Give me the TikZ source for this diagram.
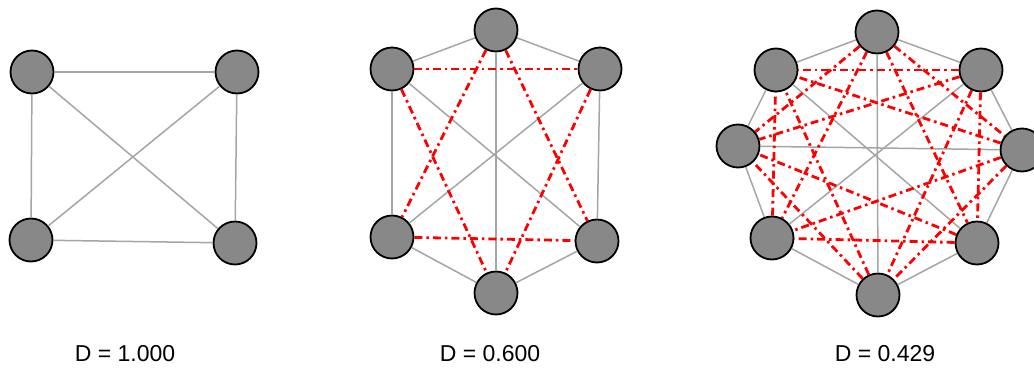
\documentclass[tikz,border=0pt]{standalone}
\usepackage{fontspec}
\setmainfont{Liberation Sans}
\begin{document}
\begin{tikzpicture}[x=1pt,y=-1pt,
  vtx/.style={circle,draw=black,line width=1.8pt,fill=vgray,minimum size=43pt,inner sep=0pt},
  gedge/.style={draw=egray,line width=1.5pt},
  redge/.style={draw=red,line width=2.8pt,dash pattern=on 8pt off 4pt on 2.5pt off 4pt},
  lbl/.style={font=\fontsize{23}{26}\selectfont,inner sep=0pt}]
\definecolor{vgray}{RGB}{136,136,136}
\definecolor{egray}{RGB}{165,165,165}
\useasboundingbox (0,0) rectangle (1034,367);
% graph 1
\node[vtx] (a1) at (32,72) {};
\node[vtx] (a2) at (237,72) {};
\node[vtx] (a3) at (31,240) {};
\node[vtx] (a4) at (235,243) {};
\foreach \u/\v in {a1/a2,a1/a3,a1/a4,a2/a3,a2/a4,a3/a4} \draw[gedge] (\u) -- (\v);
% graph 2
\node[vtx] (b1) at (496,30) {};
\node[vtx] (b2) at (392,69) {};
\node[vtx] (b3) at (600,69) {};
\node[vtx] (b4) at (392,237) {};
\node[vtx] (b5) at (597,241) {};
\node[vtx] (b6) at (496,293) {};
\foreach \u/\v in {b1/b2,b1/b3,b2/b4,b3/b5,b4/b6,b5/b6,b1/b6,b2/b5,b3/b4} \draw[gedge] (\u) -- (\v);
\foreach \u/\v in {b2/b3,b4/b5,b1/b4,b1/b5,b2/b6,b3/b6} \draw[redge] (\u) -- (\v);
% graph 3
\node[vtx] (c1) at (877,32) {};
\node[vtx] (c2) at (981,70) {};
\node[vtx] (c3) at (1022,150) {};
\node[vtx] (c4) at (977,243) {};
\node[vtx] (c5) at (878,295) {};
\node[vtx] (c6) at (772,238) {};
\node[vtx] (c7) at (738,146) {};
\node[vtx] (c8) at (776,70) {};
\foreach \u/\v in {c1/c2,c2/c3,c3/c4,c4/c5,c5/c6,c6/c7,c7/c8,c8/c1,c1/c5,c2/c6,c3/c7,c4/c8} \draw[gedge] (\u) -- (\v);
\foreach \u/\v in {c1/c3,c1/c4,c1/c6,c1/c7,c2/c4,c2/c5,c2/c7,c2/c8,c3/c5,c3/c6,c3/c8,c4/c6,c4/c7,c5/c7,c5/c8,c6/c8} \draw[redge] (\u) -- (\v);
% labels
\node[lbl] (l1) at (125,354) {D = 1.000};
\node[lbl] (l2) at (490,354) {D = 0.600};
\node[lbl] (l3) at (885,354) {D = 0.429};
\end{tikzpicture}
\end{document}
